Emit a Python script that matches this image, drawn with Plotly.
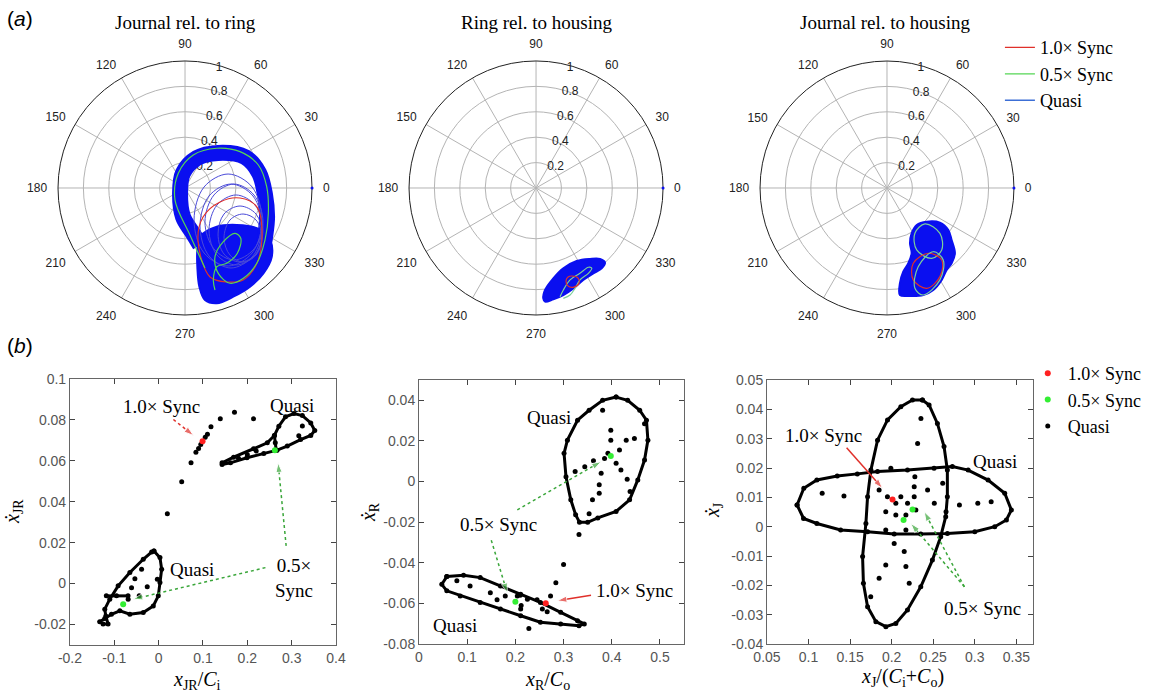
import numpy as np
import plotly.graph_objects as go

SERIF = "Liberation Serif, Times New Roman, DejaVu Serif, serif"
SANS = "Liberation Sans, Arial, Helvetica, sans-serif"
RED = "#e0302a"
GREEN = "#55d655"
BLUE = "#0a0ff0"
LOOPBLUE = "#4a4ad8"
DGREEN = "#3aa63a"

# ---------------- (a) polar orbits: normalised eccentricity components ----------------
# Journal relative to ring
P1_BAND_X = [0.118, 0.055, -0.016, -0.039, -0.016, 0.094, 0.260, 0.472, 0.583, 0.630, 0.646, 0.630, 0.606]
P1_BAND_Y = [-0.449, -0.346, -0.228, -0.039, 0.118, 0.236, 0.276, 0.244, 0.118, -0.055, -0.228, -0.386, -0.528]
P1_BLOB_X = [0.118, 0.250, 0.407, 0.565, 0.669, 0.683, 0.617, 0.512, 0.380, 0.250, 0.157, 0.113, 0.097, 0.097]
P1_BLOB_Y = [-0.383, -0.305, -0.291, -0.317, -0.409, -0.541, -0.672, -0.777, -0.856, -0.908, -0.882, -0.777, -0.620, -0.488]
P1_LOOPA_X = [0.362, 0.535, 0.606, 0.535, 0.362, 0.189, 0.118, 0.189]
P1_LOOPA_Y = [0.031, -0.063, -0.299, -0.535, -0.630, -0.535, -0.299, -0.063]
P1_LOOPB_X = [0.402, 0.551, 0.614, 0.551, 0.402, 0.252, 0.189, 0.252]
P1_LOOPB_Y = [-0.055, -0.134, -0.331, -0.528, -0.606, -0.528, -0.331, -0.134]
P1_LOOPC_X = [0.433, 0.559, 0.606, 0.559, 0.433, 0.307, 0.260, 0.307]
P1_LOOPC_Y = [-0.142, -0.205, -0.362, -0.520, -0.583, -0.520, -0.362, -0.205]
P1_LOOPD_X = [0.339, 0.528, 0.606, 0.528, 0.339, 0.150, 0.071, 0.150]
P1_LOOPD_Y = [0.110, 0.008, -0.252, -0.512, -0.614, -0.512, -0.252, 0.008]
P1_LOOPE_X = [0.386, 0.543, 0.614, 0.543, 0.386, 0.228, 0.157, 0.228]
P1_LOOPE_Y = [0.031, -0.055, -0.268, -0.480, -0.567, -0.480, -0.268, -0.055]
P1_LOOPF_X = [0.457, 0.559, 0.606, 0.559, 0.457, 0.354, 0.307, 0.354]
P1_LOOPF_Y = [-0.205, -0.252, -0.394, -0.528, -0.583, -0.528, -0.394, -0.252]
P1_RED_X = [0.102, 0.197, 0.331, 0.457, 0.567, 0.606, 0.567, 0.433, 0.276, 0.142]
P1_RED_Y = [-0.409, -0.701, -0.740, -0.724, -0.591, -0.331, -0.150, -0.079, -0.110, -0.228]
P1_GREEN_X = [0.157, 0.039, -0.079, -0.053, 0.065, 0.250, 0.433, 0.577, 0.643, 0.656, 0.630, 0.565,
              0.459, 0.354, 0.262, 0.236, 0.302, 0.394, 0.439, 0.412, 0.328, 0.250, 0.223, 0.236]
P1_GREEN_Y = [-0.630, -0.370, -0.094, 0.116, 0.260, 0.313, 0.286, 0.181, 0.010, -0.199, -0.409, -0.593,
              -0.711, -0.750, -0.672, -0.541, -0.423, -0.357, -0.396, -0.514, -0.593, -0.620, -0.724, -0.803]

# Ring relative to housing
P2_BLOB_X = [0.057, 0.071, 0.136, 0.215, 0.320, 0.425, 0.504, 0.543, 0.517, 0.451, 0.372, 0.294, 0.215, 0.136, 0.071]
P2_BLOB_Y = [-0.869, -0.803, -0.711, -0.632, -0.575, -0.559, -0.559, -0.588, -0.632, -0.672, -0.724, -0.790, -0.843, -0.876, -0.895]
P2_GREEN_X = [0.189, 0.215, 0.268, 0.346, 0.412, 0.439, 0.412, 0.346, 0.307, 0.268, 0.215]
P2_GREEN_Y = [-0.856, -0.803, -0.724, -0.672, -0.624, -0.632, -0.672, -0.724, -0.790, -0.843, -0.869]
P2_RED_X = [0.283, 0.331, 0.339, 0.299, 0.252, 0.236, 0.252]
P2_RED_Y = [-0.693, -0.709, -0.748, -0.780, -0.772, -0.732, -0.701]

# Journal relative to housing
P3_BLOB_X = [0.234, 0.313, 0.417, 0.483, 0.509, 0.535, 0.509, 0.470, 0.431, 0.365, 0.286, 0.181, 0.102, 0.102, 0.128, 0.168, 0.194, 0.181, 0.194]
P3_BLOB_Y = [-0.291, -0.265, -0.273, -0.331, -0.409, -0.514, -0.593, -0.646, -0.724, -0.803, -0.843, -0.850, -0.843, -0.750, -0.659, -0.593, -0.514, -0.435, -0.357]
P3_GREENA_X = [0.299, 0.417, 0.431, 0.352, 0.234, 0.220]
P3_GREENA_Y = [-0.283, -0.357, -0.488, -0.554, -0.488, -0.357]
P3_GREENB_X = [0.365, 0.443, 0.417, 0.286, 0.220, 0.246]
P3_GREENB_Y = [-0.502, -0.567, -0.724, -0.843, -0.790, -0.620]
P3_RED_X = [0.325, 0.431, 0.417, 0.313, 0.207, 0.207]
P3_RED_Y = [-0.514, -0.567, -0.698, -0.790, -0.724, -0.593]

START_R = [1.0]
START_T = [0.0]

ANG_TICKS = list(range(0, 360, 30))
ANG_LABELS = [str(a) for a in ANG_TICKS]
RAD_TICKS = [0.2, 0.4, 0.6, 0.8, 1.0]
RAD_LABELS = ["0.2", "0.4", "0.6", "0.8", "1"]

# ---------------- (b) phase portraits ----------------
B1_LOOPA_X = [0.143, 0.169, 0.214, 0.245, 0.261, 0.271, 0.286, 0.305, 0.324, 0.343, 0.352, 0.343, 0.320, 0.290, 0.267, 0.237, 0.199, 0.162, 0.143]
B1_LOOPA_Y = [0.059, 0.0618, 0.0659, 0.0688, 0.0724, 0.0769, 0.0815, 0.0831, 0.0821, 0.0785, 0.0748, 0.0724, 0.0704, 0.0672, 0.0652, 0.0636, 0.0615, 0.059, 0.0582]
B1_LOOPB_X = [-0.0106, 0.0030, 0.0068, 0.0030, -0.0008, -0.0121, -0.0347, -0.0649, -0.0875, -0.1064, -0.1215, -0.1328,
              -0.1253, -0.1140, -0.1192, -0.1215, -0.1102, -0.0913, -0.0649, -0.0347, -0.0158, -0.0106]
B1_LOOPB_Y = [0.0159, 0.0127, 0.0070, 0.0005, -0.0060, -0.0109, -0.0141, -0.0150, -0.0133, -0.0150, -0.0171, -0.0187,
              -0.0198, -0.0198, -0.0158, -0.0125, -0.0076, -0.0011, 0.0054, 0.0119, 0.0154, 0.0159]
B1_LINK_X = [-0.118, -0.095, -0.069]
B1_LINK_Y = [-0.006, -0.006, -0.006]
B1_NECK_X = [0.261, 0.263, 0.265]
B1_NECK_Y = [0.0724, 0.0688, 0.0652]
B1_PTS_X = [0.0196, 0.052, 0.073, 0.084, 0.090, 0.095, 0.105, 0.110, 0.118, 0.139, 0.171, 0.214,
            0.324, 0.316, 0.200, 0.180, 0.220,
            -0.0536, -0.0611, -0.0438, -0.0257, -0.0030, -0.0385, -0.0687]
B1_PTS_Y = [0.0341, 0.0498, 0.059, 0.0642, 0.066, 0.068, 0.0715, 0.073, 0.0766, 0.0805, 0.0837, 0.0805,
            0.0770, 0.0722, 0.0630, 0.0612, 0.0648,
            0.0024, -0.0020, -0.0060, -0.0015, 0.0021, 0.0070, -0.0076]
B1_RED_X = [0.099]
B1_RED_Y = [0.0696]
B1_GREEN_X = [0.262, -0.080]
B1_GREEN_Y = [0.0652, -0.0101]

B2_LOOPA_X = [0.409, 0.433, 0.458, 0.472, 0.475, 0.468, 0.454, 0.437, 0.409, 0.371, 0.350, 0.333, 0.325, 0.315, 0.305, 0.301, 0.308, 0.329, 0.353, 0.381, 0.409]
B2_LOOPA_Y = [0.0416, 0.0400, 0.0351, 0.0302, 0.0204, 0.0106, 0.0008, -0.0090, -0.0147, -0.0179, -0.0201, -0.0201, -0.0163, -0.0090, 0.0024, 0.0139, 0.0204, 0.0302, 0.0351, 0.0400, 0.0416]
B2_LOOPB_X = [0.0577, 0.0925, 0.127, 0.169, 0.211, 0.252, 0.294, 0.329, 0.343, 0.332, 0.294, 0.252, 0.211, 0.169, 0.127, 0.0855, 0.0577, 0.0473, 0.0577]
B2_LOOPB_Y = [-0.0468, -0.0462, -0.0473, -0.0514, -0.0555, -0.0595, -0.0644, -0.0685, -0.0701, -0.0710, -0.0701, -0.0693, -0.0661, -0.0628, -0.0595, -0.0563, -0.0538, -0.0506, -0.0468]
B2_PTS_X = [0.362, 0.344, 0.324, 0.378, 0.374, 0.374, 0.360, 0.353, 0.381, 0.398, 0.398, 0.416, 0.430, 0.447, 0.468,
            0.409, 0.419, 0.432, 0.438, 0.385, 0.392,
            0.332, 0.300, 0.284,
            0.0786, 0.106, 0.148, 0.162, 0.179, 0.225, 0.204, 0.245, 0.256, 0.266, 0.273, 0.228, 0.211, 0.210, 0.212]
B2_PTS_Y = [0.0103, 0.0073, 0.0049, 0.0041, -0.0016, -0.0057, -0.0090, -0.0158, 0.0351, 0.0253, 0.0204, 0.0155, 0.0204, 0.0212, 0.0285,
            0.0090, 0.0057, 0.0011, -0.0049, 0.0114, 0.0139,
            -0.0261, -0.0408, -0.0498,
            -0.0489, -0.0514, -0.0547, -0.0582, -0.0563, -0.0579, -0.0563, -0.0582, -0.0628, -0.0641, -0.0563, -0.0723, -0.0628, -0.0560, -0.0610]
B2_RED_X = [0.263]
B2_RED_Y = [-0.0599]
B2_GREEN_X = [0.398, 0.200]
B2_GREEN_Y = [0.0126, -0.0592]

B3_LOOPH_X = [0.0862, 0.0943, 0.110, 0.1345, 0.1587, 0.183, 0.219, 0.251, 0.273, 0.292, 0.316, 0.336, 0.344,
              0.338, 0.324, 0.300, 0.267, 0.235, 0.203, 0.171, 0.1386, 0.110, 0.094, 0.0862]
B3_LOOPH_Y = [0.0074, 0.0131, 0.0159, 0.0173, 0.0180, 0.0188, 0.0193, 0.0199, 0.0205, 0.0193, 0.0159, 0.0114, 0.0057,
              0.0023, 0.0000, -0.0017, -0.0023, -0.0025, -0.0025, -0.0017, -0.0011, 0.0011, 0.0028, 0.0074]
B3_LOOPV_X = [0.237, 0.245, 0.255, 0.263, 0.267, 0.267, 0.265, 0.259, 0.249, 0.235, 0.219, 0.205, 0.193,
              0.181, 0.171, 0.166, 0.165, 0.169, 0.171, 0.175, 0.183, 0.195, 0.211, 0.225, 0.237]
B3_LOOPV_Y = [0.0432, 0.0415, 0.0352, 0.0273, 0.0193, 0.0102, 0.0034, -0.0034, -0.0114, -0.0205, -0.0284, -0.0330, -0.0341,
              -0.0324, -0.0273, -0.0193, -0.0102, 0.0011, 0.0102, 0.0193, 0.0295, 0.0364, 0.0409, 0.0432, 0.0432]
B3_PTS_X = [0.1164, 0.1426, 0.2312, 0.2352, 0.2279, 0.2271, 0.2271, 0.2291, 0.2171, 0.2110, 0.2050, 0.2191, 0.2050,
            0.1949, 0.1849, 0.1929, 0.1929, 0.2171, 0.2151, 0.2171, 0.2211, 0.1929, 0.1849, 0.1748, 0.2432,
            0.2513, 0.2614, 0.2654, 0.2815, 0.3036, 0.3197, 0.2030, 0.1990]
B3_PTS_Y = [0.0114, 0.0105, 0.0284, 0.0369, 0.0170, 0.0136, 0.0102, 0.0057, 0.0040, 0.0102, 0.0080, 0.0080, 0.0040,
            0.0102, 0.0125, 0.0051, -0.0011, -0.0011, -0.0085, -0.0136, -0.0193, -0.0131, -0.0176, -0.0239, 0.0125,
            0.0080, 0.0148, 0.0051, 0.0074, 0.0080, 0.0085, -0.0057, 0.0199]
B3_RED_X = [0.201]
B3_RED_Y = [0.0093]
B3_GREEN_X = [0.2251, 0.2143]
B3_GREEN_Y = [0.0059, 0.0023]

# axis ticks
B1_XT = [-0.2, -0.1, 0, 0.1, 0.2, 0.3, 0.4]
B1_XL = ["-0.2", "-0.1", "0", "0.1", "0.2", "0.3", "0.4"]
B1_YT = [-0.02, 0, 0.02, 0.04, 0.06, 0.08, 0.1]
B1_YL = ["-0.02", "0", "0.02", "0.04", "0.06", "0.08", "0.1"]
B2_XT = [0, 0.1, 0.2, 0.3, 0.4, 0.5]
B2_XL = ["0", "0.1", "0.2", "0.3", "0.4", "0.5"]
B2_YT = [-0.08, -0.06, -0.04, -0.02, 0, 0.02, 0.04]
B2_YL = ["-0.08", "-0.06", "-0.04", "-0.02", "0", "0.02", "0.04"]
B3_XT = [0.05, 0.1, 0.15, 0.2, 0.25, 0.3, 0.35]
B3_XL = ["0.05", "0.1", "0.15", "0.2", "0.25", "0.3", "0.35"]
B3_YT = [-0.04, -0.03, -0.02, -0.01, 0, 0.01, 0.02, 0.03, 0.04, 0.05]
B3_YL = ["-0.04", "-0.03", "-0.02", "-0.01", "0", "0.01", "0.02", "0.03", "0.04", "0.05"]

# annotation arrows (x0, y0, x1, y1, colour, dash)
B1_ARROWS = [(0.0332, 0.0802, 0.0785, 0.0724, RED, "dot"),
             (0.2875, 0.0184, 0.2694, 0.0590, DGREEN, "dot"),
             (0.2408, 0.0078, -0.0574, -0.0076, DGREEN, "dot")]
B2_ARROWS = [(0.204, -0.0139, 0.378, 0.0098, DGREEN, "dot"),
             (0.150, -0.0289, 0.183, -0.0547, DGREEN, "dot"),
             (0.357, -0.0560, 0.287, -0.0587, RED, "solid")]
B3_ARROWS = [(0.1458, 0.0269, 0.1889, 0.0131, RED, "solid"),
             (0.2875, -0.0205, 0.2231, 0.0011, DGREEN, "dot"),
             (0.2875, -0.0205, 0.2392, 0.0051, DGREEN, "dot")]
# text labels (x, y, text)
B1_TEXT = [(0.0068, 0.0867, "1.0× Sync"), (0.301, 0.0870, "Quasi"), (0.0747, 0.0067, "Quasi"), (0.305, 0.0025, "0.5×<br>Sync")]
B2_TEXT = [(0.270, 0.0315, "Quasi"), (0.075, -0.0710, "Quasi"), (0.1655, -0.0212, "0.5× Sync"), (0.447, -0.0538, "1.0× Sync")]
B3_TEXT = [(0.1184, 0.0312, "1.0× Sync"), (0.3238, 0.0222, "Quasi"), (0.3097, -0.0278, "0.5× Sync")]

# ---------------------------------------------------------------------------
fig = go.Figure()


def closed(v):
    return list(v) + [v[0]]


def to_polar(x, y):
    x = np.asarray(x, float)
    y = np.asarray(y, float)
    return np.hypot(x, y), np.degrees(np.arctan2(y, x))


def add_polar(sub, x, y, **kw):
    r, t = to_polar(x, y)
    kw.setdefault("showlegend", False)
    fig.add_trace(go.Scatterpolar(r=r, theta=t, subplot=sub, hoverinfo="skip", **kw))


def blob(sub, x, y):
    add_polar(sub, closed(x), closed(y), mode="lines", fill="toself", fillcolor=BLUE,
              line=dict(color=BLUE, width=2, shape="spline"))


def start_dot(sub):
    fig.add_trace(go.Scatterpolar(r=START_R, theta=START_T, subplot=sub, mode="markers",
                                  marker=dict(color=BLUE, size=3), showlegend=False, hoverinfo="skip"))


# panel a1
blob("polar", P1_BLOB_X, P1_BLOB_Y)
add_polar("polar", P1_BAND_X, P1_BAND_Y, mode="lines", line=dict(color=BLUE, width=16, shape="spline"))
for lx, ly in [(P1_LOOPD_X, P1_LOOPD_Y), (P1_LOOPA_X, P1_LOOPA_Y), (P1_LOOPE_X, P1_LOOPE_Y),
               (P1_LOOPB_X, P1_LOOPB_Y), (P1_LOOPC_X, P1_LOOPC_Y), (P1_LOOPF_X, P1_LOOPF_Y)]:
    add_polar("polar", closed(lx), closed(ly), mode="lines", line=dict(color=LOOPBLUE, width=1, shape="spline"))
add_polar("polar", closed(P1_RED_X), closed(P1_RED_Y), mode="lines", name="1.0× Sync",
          line=dict(color=RED, width=1.2, shape="spline"), showlegend=True, legend="legend", legendrank=1)
add_polar("polar", P1_GREEN_X, P1_GREEN_Y, mode="lines", name="0.5× Sync",
          line=dict(color=GREEN, width=1.2, shape="spline"), showlegend=True, legend="legend", legendrank=2)
fig.add_trace(go.Scatterpolar(r=START_R, theta=START_T, subplot="polar", mode="lines", name="Quasi",
                              line=dict(color="#3c6fd6", width=1.5),
                              showlegend=True, legend="legend", legendrank=3, hoverinfo="skip"))
start_dot("polar")

# panel a2
blob("polar2", P2_BLOB_X, P2_BLOB_Y)
add_polar("polar2", P2_GREEN_X, P2_GREEN_Y, mode="lines", line=dict(color="#7ccf9a", width=1.2, shape="spline"))
add_polar("polar2", closed(P2_RED_X), closed(P2_RED_Y), mode="lines", line=dict(color=RED, width=1.2, shape="spline"))
start_dot("polar2")

# panel a3
blob("polar3", P3_BLOB_X, P3_BLOB_Y)
add_polar("polar3", closed(P3_GREENA_X), closed(P3_GREENA_Y), mode="lines", line=dict(color="#7ccf9a", width=1.2, shape="spline"))
add_polar("polar3", closed(P3_RED_X), closed(P3_RED_Y), mode="lines", line=dict(color=RED, width=1.2, shape="spline"))
add_polar("polar3", closed(P3_GREENB_X), closed(P3_GREENB_Y), mode="lines", line=dict(color="#7ccf9a", width=1.2, shape="spline"))
start_dot("polar3")


# ---------------- bottom panels ----------------
def loop(xa, ya, x, y):
    fig.add_trace(go.Scatter(x=x, y=y, xaxis=xa, yaxis=ya, mode="lines+markers",
                             line=dict(color="black", width=3), marker=dict(color="black", size=5),
                             showlegend=False, hoverinfo="skip"))


def pts(xa, ya, x, y, color, size, name=None, show=False):
    fig.add_trace(go.Scatter(x=x, y=y, xaxis=xa, yaxis=ya, mode="markers", name=name,
                             marker=dict(color=color, size=size), showlegend=show,
                             legend="legend2", legendgroup=name, hoverinfo="skip"))


def arrows(xa, ya, lst):
    for x0, y0, x1, y1, c, d in lst:
        fig.add_trace(go.Scatter(x=[x0, x1], y=[y0, y1], xaxis=xa, yaxis=ya, mode="lines+markers",
                                 line=dict(color=c, width=1.5, dash=d),
                                 marker=dict(symbol="arrow", size=[0, 10], angleref="previous", color=c),
                                 showlegend=False, hoverinfo="skip"))


loop("x", "y", B1_LOOPA_X, B1_LOOPA_Y)
loop("x", "y", B1_LOOPB_X, B1_LOOPB_Y)
loop("x", "y", B1_LINK_X, B1_LINK_Y)
loop("x", "y", B1_NECK_X, B1_NECK_Y)
pts("x", "y", B1_PTS_X, B1_PTS_Y, "black", 5, "Quasi", True)
arrows("x", "y", B1_ARROWS)
pts("x", "y", B1_RED_X, B1_RED_Y, "#ff2020", 6, "1.0× Sync", True)
pts("x", "y", B1_GREEN_X, B1_GREEN_Y, "#33ee33", 6, "0.5× Sync", True)

loop("x2", "y2", B2_LOOPA_X, B2_LOOPA_Y)
loop("x2", "y2", B2_LOOPB_X, B2_LOOPB_Y)
pts("x2", "y2", B2_PTS_X, B2_PTS_Y, "black", 5, "Quasi")
arrows("x2", "y2", B2_ARROWS)
pts("x2", "y2", B2_RED_X, B2_RED_Y, "#ff2020", 6, "1.0× Sync")
pts("x2", "y2", B2_GREEN_X, B2_GREEN_Y, "#33ee33", 6, "0.5× Sync")

loop("x3", "y3", B3_LOOPH_X, B3_LOOPH_Y)
loop("x3", "y3", B3_LOOPV_X, B3_LOOPV_Y)
pts("x3", "y3", B3_PTS_X, B3_PTS_Y, "black", 5, "Quasi")
arrows("x3", "y3", B3_ARROWS)
pts("x3", "y3", B3_RED_X, B3_RED_Y, "#ff2020", 6, "1.0× Sync")
pts("x3", "y3", B3_GREEN_X, B3_GREEN_Y, "#33ee33", 6, "0.5× Sync")

for tr in fig.data:
    if getattr(tr, "legend", None) == "legend2" and tr.showlegend:
        tr.legendrank = {"1.0× Sync": 1, "0.5× Sync": 2, "Quasi": 3}[tr.name]


def polar_layout(xd):
    return dict(
        domain=dict(x=xd, y=[0.5474, 0.9124]),
        bgcolor="white",
        radialaxis=dict(range=[0, 1], tickvals=RAD_TICKS, ticktext=RAD_LABELS, angle=79, tickangle=79,
                        showline=False, ticks="", gridcolor="#b4b4b4", gridwidth=1, layer="below traces",
                        tickfont=dict(family=SANS, size=12, color="#222")),
        angularaxis=dict(tickvals=ANG_TICKS, ticktext=ANG_LABELS, direction="counterclockwise", rotation=0,
                         showline=True, linecolor="#222", linewidth=1, gridcolor="#b4b4b4",
                         ticks="outside", ticklen=8, tickcolor="rgba(0,0,0,0)",
                         layer="below traces", tickfont=dict(family=SANS, size=12, color="#222")),
    )


def cart(xd, yd, xr, yr, xt, xl, yt, yl, anchor_x, anchor_y):
    common = dict(showline=True, linecolor="#666", linewidth=1, mirror="ticks", ticks="inside", ticklen=5,
                  tickcolor="#444", showgrid=False, zeroline=False,
                  tickfont=dict(family=SANS, size=14, color="#555"))
    xa = dict(domain=xd, range=xr, tickvals=xt, ticktext=xl, anchor=anchor_y, **common)
    ya = dict(domain=yd, range=yr, tickvals=yt, ticktext=yl, anchor=anchor_x, **common)
    return xa, ya


x1, y1 = cart([0.0603, 0.2897], [0.0733, 0.4555], [-0.2, 0.4], [-0.03, 0.1], B1_XT, B1_XL, B1_YT, B1_YL, "x", "y")
x2, y2 = cart([0.3612, 0.5897], [0.0747, 0.4540], [0, 0.55], [-0.08, 0.05], B2_XT, B2_XL, B2_YT, B2_YL, "x2", "y2")
x3, y3 = cart([0.6612, 0.8905], [0.0747, 0.4540], [0.05, 0.37], [-0.04, 0.05], B3_XT, B3_XL, B3_YT, B3_YL, "x3", "y3")

ann = []


def ptext(x, y, text, size=19, family=SERIF, angle=0, xanchor="center"):
    ann.append(dict(x=x, y=y, xref="paper", yref="paper", text=text, showarrow=False, textangle=angle,
                    xanchor=xanchor, yanchor="middle", font=dict(family=family, size=size, color="black")))


ptext(0.1603, 0.968, "Journal rel. to ring")
ptext(0.4629, 0.968, "Ring rel. to housing")
ptext(0.7629, 0.968, "Journal rel. to housing")
ptext(0.004, 0.973, "(<i>a</i>)", size=21, family=SANS, xanchor="left")
ptext(0.004, 0.503, "(<i>b</i>)", size=21, family=SANS, xanchor="left")
ptext(0.1698, 0.0216, "<i>x</i><sub>JR</sub>/<i>C</i><sub>i</sub>", size=20)
ptext(0.4716, 0.0216, "<i>x</i><sub>R</sub>/<i>C</i><sub>o</sub>", size=20)
ptext(0.7784, 0.0259, "<i>x</i><sub>J</sub>/(<i>C</i><sub>i</sub>+<i>C</i><sub>o</sub>)", size=20)
ptext(0.0121, 0.2644, "<i>ẋ</i><sub>JR</sub>", size=20, angle=-90)
ptext(0.3190, 0.2644, "<i>ẋ</i><sub>R</sub>", size=20, angle=-90)
ptext(0.6147, 0.2672, "<i>ẋ</i><sub>J</sub>", size=20, angle=-90)

for xr_, yr_, lst in (("x", "y", B1_TEXT), ("x2", "y2", B2_TEXT), ("x3", "y3", B3_TEXT)):
    for x, y, t in lst:
        ann.append(dict(x=x, y=y, xref=xr_, yref=yr_, text=t, showarrow=False,
                        font=dict(family=SERIF, size=19, color="black")))

fig.update_layout(
    width=1160, height=696, margin=dict(l=0, r=0, t=0, b=0, autoexpand=False),
    paper_bgcolor="white", plot_bgcolor="white",
    polar=polar_layout([0.0500, 0.2690]),
    polar2=polar_layout([0.3526, 0.5716]),
    polar3=polar_layout([0.6552, 0.8741]),
    xaxis=x1, yaxis=y1, xaxis2=x2, yaxis2=y2, xaxis3=x3, yaxis3=y3,
    legend=dict(x=0.862, y=0.958, xanchor="left", yanchor="top", bgcolor="rgba(0,0,0,0)",
                font=dict(family=SERIF, size=18, color="black"), itemwidth=30, tracegroupgap=0),
    legend2=dict(x=0.886, y=0.49, xanchor="left", yanchor="top", bgcolor="rgba(0,0,0,0)",
                 font=dict(family=SERIF, size=18, color="black"), itemwidth=30, tracegroupgap=0),
    annotations=ann,
    showlegend=True,
)

# push radial tick labels slightly outward along the axis, if supported
for key in ("polar", "polar2", "polar3"):
    try:
        fig.layout[key].radialaxis.ticklabelshift = 10
    except (ValueError, AttributeError):
        pass

fig.write_html("out.html")
